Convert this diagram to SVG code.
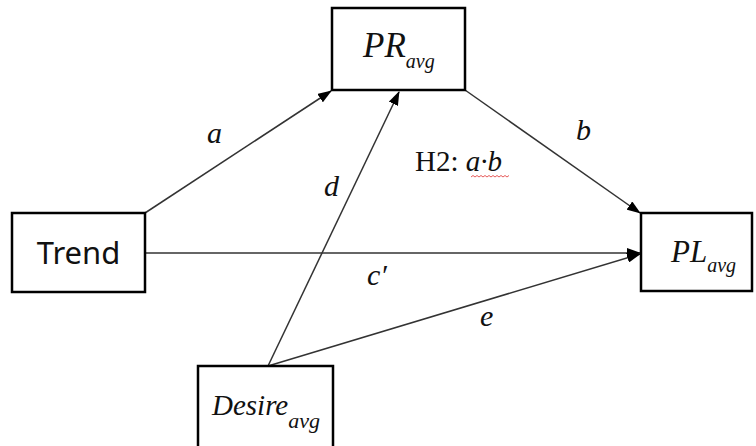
<svg xmlns="http://www.w3.org/2000/svg" width="756" height="446" viewBox="0 0 756 446">
<style>
.box{fill:#fff;stroke:#000;stroke-width:2.5}
.ln{stroke:#333;stroke-width:1.5;fill:none;marker-end:url(#ah)}
.it{font-family:"Liberation Serif","Times New Roman",serif;font-style:italic;fill:#111}
.sans{font-family:"Noto Sans","Open Sans",sans-serif;fill:#111}
.rm{font-family:"Liberation Serif","Times New Roman",serif;fill:#111}
</style>
<defs>
<marker id="ah" markerWidth="14" markerHeight="10" refX="13" refY="5" orient="auto" markerUnits="userSpaceOnUse">
<path d="M0,0 L14,5 L0,10 Z" fill="#000"/>
</marker>
</defs>
<rect width="756" height="446" fill="#fff"/>
<g id="connectors">
<line class="ln" x1="145" y1="213" x2="331" y2="91"/>
<line class="ln" x1="268" y1="366" x2="399" y2="92"/>
<line class="ln" x1="465" y1="90" x2="640" y2="213"/>
<line class="ln" x1="145" y1="253" x2="640" y2="253"/>
<line class="ln" x1="268" y1="366" x2="640" y2="254"/>
</g>
<g id="PR">
<rect class="box" x="332" y="8" width="133" height="82"/>
<text class="it" x="363" y="57" font-size="35">PR<tspan font-size="20" dy="11">avg</tspan></text>
</g>
<g id="Trend">
<rect class="box" x="12" y="213" width="133" height="79"/>
<text class="sans" x="78.5" y="264" font-size="31" text-anchor="middle">Trend</text>
</g>
<g id="PL">
<rect class="box" x="641" y="213" width="111" height="78"/>
<text class="it" x="671" y="262" font-size="31">PL<tspan font-size="20" dy="10">avg</tspan></text>
</g>
<g id="Desire">
<rect class="box" x="198" y="366" width="135" height="90"/>
<text class="it" x="212" y="415" font-size="29">Desire<tspan font-size="22" dy="13">avg</tspan></text>
</g>
<g id="labels">
<text class="it" x="207" y="143" font-size="30">a</text>
<text class="it" x="576" y="140" font-size="30">b</text>
<text class="it" x="324" y="196" font-size="30">d</text>
<text class="it" x="367" y="285" font-size="30">c′</text>
<text class="it" x="480" y="326" font-size="30">e</text>
<text class="rm" x="415" y="171" font-size="29">H2: <tspan font-style="italic">a·b</tspan></text>
<path d="M471,177 l2,-1.5 l2,1.5 l2,-1.5 l2,1.5 l2,-1.5 l2,1.5 l2,-1.5 l2,1.5 l2,-1.5 l2,1.5 l2,-1.5 l2,1.5 l2,-1.5 l2,1.5 l2,-1.5 l2,1.5 l2,-1.5 l2,1.5 l2,-1.5" fill="none" stroke="#e03030" stroke-width="0.8"/>
</g>
</svg>
